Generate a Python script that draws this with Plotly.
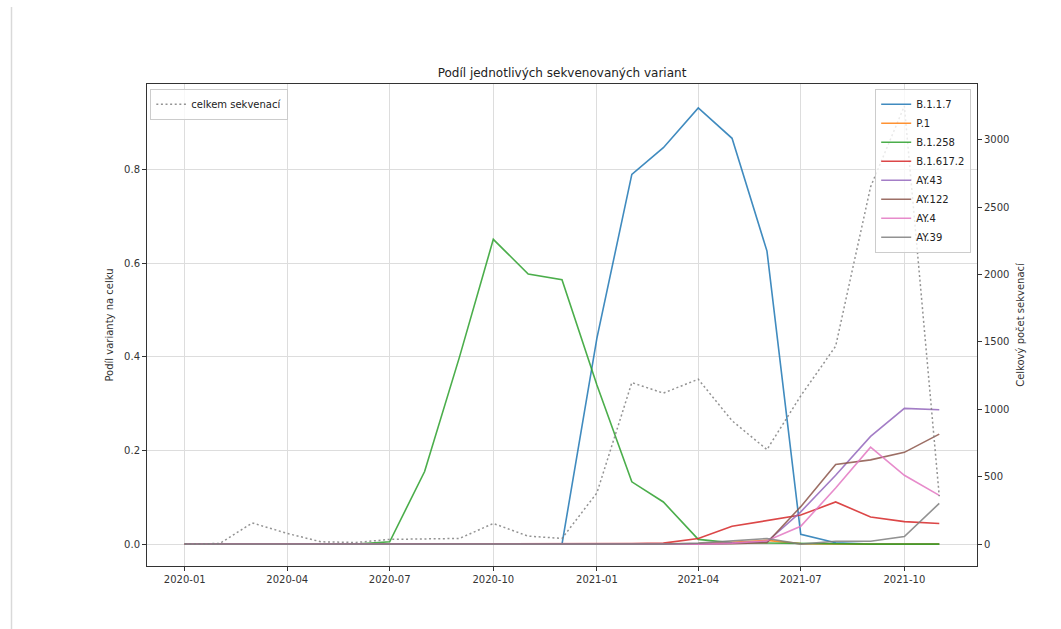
import plotly.graph_objects as go

# Monthly shares of sequenced SARS-CoV-2 variants and the total number of sequences
months = [
    "2020-01-01", "2020-02-01", "2020-03-01", "2020-04-01", "2020-05-01", "2020-06-01",
    "2020-07-01", "2020-08-01", "2020-09-01", "2020-10-01", "2020-11-01", "2020-12-01",
    "2021-01-01", "2021-02-01", "2021-03-01", "2021-04-01", "2021-05-01", "2021-06-01",
    "2021-07-01", "2021-08-01", "2021-09-01", "2021-10-01", "2021-11-01",
]

b117 = [0] * 12 + [0.44, 0.79, 0.847, 0.932, 0.867, 0.626, 0.021, 0.003, 0, 0, 0]
p1 = [0] * 15 + [0.001, 0.004, 0.008, 0.001, 0, 0, 0, 0]
b1258 = [0, 0, 0, 0, 0, 0, 0.005, 0.155, 0.40, 0.651, 0.577, 0.565,
         0.34, 0.133, 0.090, 0.010, 0.003, 0.002, 0.001, 0, 0, 0, 0]
b16172 = [0] * 13 + [0.001, 0.002, 0.012, 0.038, 0.051, 0.062, 0.090, 0.058, 0.048, 0.044]
ay43 = [0] * 16 + [0.002, 0.005, 0.069, 0.147, 0.230, 0.290, 0.287]
ay122 = [0] * 16 + [0.001, 0.003, 0.080, 0.170, 0.180, 0.196, 0.235]
ay4 = [0] * 16 + [0.002, 0.007, 0.038, 0.120, 0.207, 0.147, 0.104]
ay39 = [0] * 15 + [0.002, 0.007, 0.012, 0.0, 0.006, 0.006, 0.016, 0.087]

total_seq = [2, 4, 157, 79, 17, 12, 35, 40, 42, 153, 59, 42,
             380, 1198, 1120, 1223, 915, 701, 1100, 1468, 2650, 3250, 355]

variant_names = ["B.1.1.7", "P.1", "B.1.258", "B.1.617.2", "AY.43", "AY.122", "AY.4", "AY.39"]
variant_values = [b117, p1, b1258, b16172, ay43, ay122, ay4, ay39]
colors = ["#1f77b4", "#ff7f0e", "#2ca02c", "#d62728", "#9467bd", "#8c564b", "#e377c2", "#7f7f7f"]

FONT = "DejaVu Sans"
AXC = "#333333"

fig = go.Figure()

for name, vals, col in zip(variant_names, variant_values, colors):
    fig.add_trace(go.Scatter(
        x=months, y=vals, name=name, mode="lines",
        line=dict(color=col, width=1.6), opacity=0.85,
        yaxis="y", legend="legend",
    ))

fig.add_trace(go.Scatter(
    x=months, y=total_seq, name="celkem sekvenací", mode="lines",
    line=dict(color="rgba(128,128,128,0.85)", width=1.5, dash="2px,2.6px"),
    yaxis="y2", legend="legend2",
))

fig.update_layout(
    width=1061, height=629,
    margin=dict(l=147, r=84, t=84, b=63),
    paper_bgcolor="white", plot_bgcolor="white",
    font=dict(family=FONT, size=10, color=AXC),
    title=dict(text="Podíl jednotlivých sekvenovaných variant",
               x=(147 + 977) / 2 / 1061, xanchor="center",
               y=1 - 73 / 629, yanchor="middle",
               font=dict(family=FONT, size=12, color="#222222")),
    xaxis=dict(
        type="date",
        range=["2019-11-28 12:00", "2021-12-04 12:00"],
        tickformat="%Y-%m", dtick="M3", tick0="2020-01-01",
        showgrid=True, gridcolor="#dddddd", gridwidth=1,
        showline=True, linecolor=AXC, linewidth=1, mirror=True,
        ticks="outside", ticklen=4, tickcolor=AXC,
        zeroline=False,
    ),
    yaxis=dict(
        range=[-0.0468, 0.983],
        tickvals=[0, 0.2, 0.4, 0.6, 0.8], ticktext=["0.0", "0.2", "0.4", "0.6", "0.8"],
        showgrid=True, gridcolor="#dddddd", gridwidth=1,
        showline=True, linecolor=AXC, linewidth=1,
        ticks="outside", ticklen=4, tickcolor=AXC,
        zeroline=False,
        title=dict(text="Podíl varianty na celku", font=dict(size=10), standoff=8),
    ),
    yaxis2=dict(
        overlaying="y", side="right",
        range=[-162.5, 3413],
        tickvals=[0, 500, 1000, 1500, 2000, 2500, 3000],
        showgrid=False,
        showline=True, linecolor=AXC, linewidth=1,
        ticks="outside", ticklen=4, tickcolor=AXC,
        zeroline=False,
        title=dict(text="Celkový počet sekvenací", font=dict(size=10), standoff=8),
    ),
    legend=dict(
        x=0.993, y=0.99, xanchor="right", yanchor="top",
        bgcolor="rgba(255,255,255,0.8)", bordercolor="#cccccc", borderwidth=1,
        font=dict(family=FONT, size=10, color="#222222"),
        itemwidth=30, tracegroupgap=0,
    ),
    legend2=dict(
        x=0.004, y=0.99, xanchor="left", yanchor="top",
        bgcolor="rgba(255,255,255,0.8)", bordercolor="#cccccc", borderwidth=1,
        font=dict(family=FONT, size=10, color="#222222"),
        itemwidth=30,
    ),
    showlegend=True,
)

# Thin vertical rule on the left edge of the page
fig.add_shape(type="line", xref="paper", yref="paper",
              x0=(11.5 - 147) / 830, x1=(11.5 - 147) / 830,
              y0=(566 - 7) / 482, y1=(566 - 629) / 482,
              line=dict(color="#d9d9d9", width=1.5))

fig.write_html("out.html")
